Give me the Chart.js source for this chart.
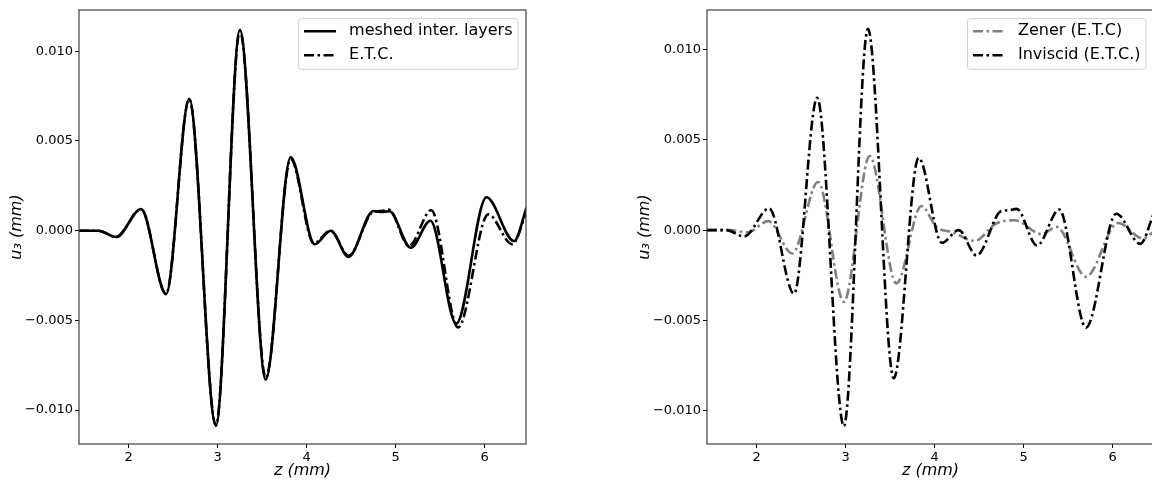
<!DOCTYPE html>
<html>
<head>
<meta charset="utf-8">
<script src="https://cdn.jsdelivr.net/npm/chart.js@4.4.0/dist/chart.umd.min.js"></script>
<style>
  html, body { margin: 0; padding: 0; background: #fff; overflow: hidden; }
  #wrap { position: relative; width: 1152px; height: 481px; overflow: hidden; }
  #left { position: absolute; left: 0; top: 0; }
  #right { position: absolute; left: 576px; top: 0; }
</style>
</head>
<body>
<div id="wrap">
  <canvas id="left" width="576" height="481"></canvas>
  <canvas id="right" width="600" height="481"></canvas>
</div>
<script>
// axis ranges and ticks
const zMin = 1.442, zMax = 6.464;
const zTicks = [2, 3, 4, 5, 6];
const zTickLabels = ['2', '3', '4', '5', '6'];
const uTicks = [-0.010, -0.005, 0.0, 0.005, 0.010];
const uTickLabels = ['\u22120.010', '\u22120.005', '0.000', '0.005', '0.010'];

// meshed interface layers (solid) - turning points
const meshZ = [1.44, 1.66, 1.86, 2.14, 2.42, 2.68, 2.98, 3.25, 3.54, 3.82, 4.09, 4.27, 4.47,
  4.75, 4.84, 4.93, 5.17, 5.39, 5.68, 6.02, 6.33, 6.47];
const meshU = [0, 0, -0.00035, 0.00121, -0.00354, 0.00735, -0.01087, 0.01118, -0.0083, 0.0041, -0.00076, 0.0, -0.00146,
  0.0011, 0.00104, 0.00108, -0.00095, 0.00055, -0.00518, 0.00186, -0.00058, 0.00128];

// E.T.C. / inviscid (dash-dot)
const etcZ = [1.44, 1.66, 1.86, 2.14, 2.42, 2.68, 2.98, 3.25, 3.54, 3.82, 4.08, 4.27, 4.47,
  4.75, 4.84, 4.92, 5.15, 5.40, 5.70, 6.04, 6.31, 6.46];
const etcU = [0, 0, -0.00035, 0.0012, -0.00352, 0.00733, -0.01085, 0.01115, -0.0082, 0.004, -0.0007, 0.0, -0.0014,
  0.00106, 0.0011, 0.00118, -0.00085, 0.00114, -0.0054, 0.00091, -0.00076, 0.0009];

// Zener (E.T.C), grey dash-dot
const zenerZ = [1.44, 1.70, 1.90, 2.13, 2.40, 2.69, 2.98, 3.27, 3.57, 3.85, 4.02, 4.20, 4.45,
  4.69, 4.90, 5.20, 5.37, 5.70, 6.06, 6.34, 6.46];
const zenerU = [0, 0, -0.00012, 0.0005, -0.00129, 0.00267, -0.00397, 0.00411, -0.00295, 0.00134, 0.00018, -0.00012, -0.00059,
  0.00037, 0.00055, -0.00022, 0.00018, -0.00258, 0.0004, -0.00046, -0.0001];

const FONT = 'DejaVu Sans';
const dashDot = [10, 3.5, 2.5, 3.5];

function pts(zs, us) {
  return zs.map((z, i) => ({x: z, y: us[i]}));
}

const framePlugin = {
  id: 'frame',
  afterDatasetsDraw(chart) {
    const {ctx, chartArea: a} = chart;
    ctx.save();
    ctx.strokeStyle = '#404040';
    ctx.lineWidth = 1.2;
    ctx.strokeRect(a.left, a.top, a.right - a.left, a.bottom - a.top);
    ctx.restore();
  }
};

const boxLegend = {
  id: 'boxLegend',
  afterDraw(chart) {
    const {ctx, chartArea: a} = chart;
    const sets = chart.data.datasets;
    ctx.save();
    ctx.font = '16px "' + FONT + '"';
    const textW = Math.max(...sets.map(d => ctx.measureText(d.label).width));
    const pad = 5.5, sample = 32, gap = 13, rowH = 24;
    const w = pad + sample + gap + textW + pad;
    const h = 50.7;
    const x = a.right - 8 - w, y = a.top + 8.6;
    ctx.beginPath();
    ctx.roundRect(x, y, w, h, 3);
    ctx.fillStyle = 'rgba(255,255,255,0.85)';
    ctx.fill();
    ctx.strokeStyle = '#d0d0d0';
    ctx.lineWidth = 1;
    ctx.stroke();
    sets.forEach((d, i) => {
      const cy = y + 12.7 + i * rowH;
      ctx.beginPath();
      ctx.strokeStyle = d.borderColor;
      ctx.lineWidth = d.borderWidth;
      ctx.setLineDash(d.borderDash || []);
      ctx.moveTo(x + pad, cy);
      ctx.lineTo(x + pad + sample, cy);
      ctx.stroke();
      ctx.setLineDash([]);
      ctx.fillStyle = '#000';
      ctx.textBaseline = 'middle';
      ctx.fillText(d.label, x + pad + sample + gap, cy);
    });
    ctx.restore();
  }
};

function scales(yWidth, yTitlePad, uMin, uMax) {
  return {
    x: {
      type: 'linear', min: zMin, max: zMax, bounds: 'data',
      afterBuildTicks: s => { s.ticks = zTicks.map(v => ({value: v})); },
      afterFit: s => { s.height = 37; },
      ticks: {callback: (v, i) => zTickLabels[i], font: {family: FONT, size: 13}, color: '#000',
        padding: 2, maxRotation: 0, autoSkip: false},
      grid: {display: true, drawOnChartArea: false, drawTicks: true, tickLength: 4, tickColor: '#000', tickWidth: 1},
      border: {display: false},
      title: {display: true, text: 'z (mm)', color: '#000',
        font: {family: FONT, size: 16, style: 'italic'}, padding: {top: 0, bottom: 1}}
    },
    y: {
      type: 'linear', min: uMin, max: uMax, bounds: 'data',
      afterBuildTicks: s => { s.ticks = uTicks.map(v => ({value: v})); },
      afterFit: s => { s.width = yWidth; },
      ticks: {callback: (v, i) => uTickLabels[i], font: {family: FONT, size: 13}, color: '#000',
        padding: 2, autoSkip: false},
      grid: {display: true, drawOnChartArea: false, drawTicks: true, tickLength: 4, tickColor: '#000', tickWidth: 1},
      border: {display: false},
      title: {display: true, text: 'u\u2083 (mm)', color: '#000',
        font: {family: FONT, size: 16, style: 'italic'}, padding: {top: yTitlePad, bottom: 0}}
    }
  };
}

const common = {
  responsive: false,
  animation: false,
  events: [],
  elements: {point: {radius: 0}, line: {cubicInterpolationMode: 'monotone', borderJoinStyle: 'round', borderCapStyle: 'butt'}},
  plugins: {legend: {display: false}, tooltip: {enabled: false}}
};

new Chart(document.getElementById('left'), {
  type: 'line',
  data: {
    datasets: [
      {label: 'meshed inter. layers', data: pts(meshZ, meshU), borderColor: '#000', borderWidth: 2.6, order: 1},
      {label: 'E.T.C.', data: pts(etcZ, etcU), borderColor: '#000', borderWidth: 2.6, borderDash: dashDot, order: 0}
    ]
  },
  options: Object.assign({}, common, {
    layout: {padding: {left: 0, top: 10, right: 50, bottom: 0}},
    scales: scales(79, 7, -0.01189, 0.0123)
  }),
  plugins: [framePlugin, boxLegend]
});

new Chart(document.getElementById('right'), {
  type: 'line',
  data: {
    datasets: [
      {label: 'Zener (E.T.C)', data: pts(zenerZ, zenerU), borderColor: '#808080', borderWidth: 2.6, borderDash: dashDot, order: 1},
      {label: 'Inviscid (E.T.C.)', data: pts(etcZ, etcU), borderColor: '#000', borderWidth: 2.6, borderDash: dashDot, order: 0}
    ]
  },
  options: Object.assign({}, common, {
    layout: {padding: {left: 0, top: 10, right: 22, bottom: 0}},
    scales: scales(131, 59, -0.01184, 0.01219)
  }),
  plugins: [framePlugin, boxLegend]
});
</script>
</body>
</html>
